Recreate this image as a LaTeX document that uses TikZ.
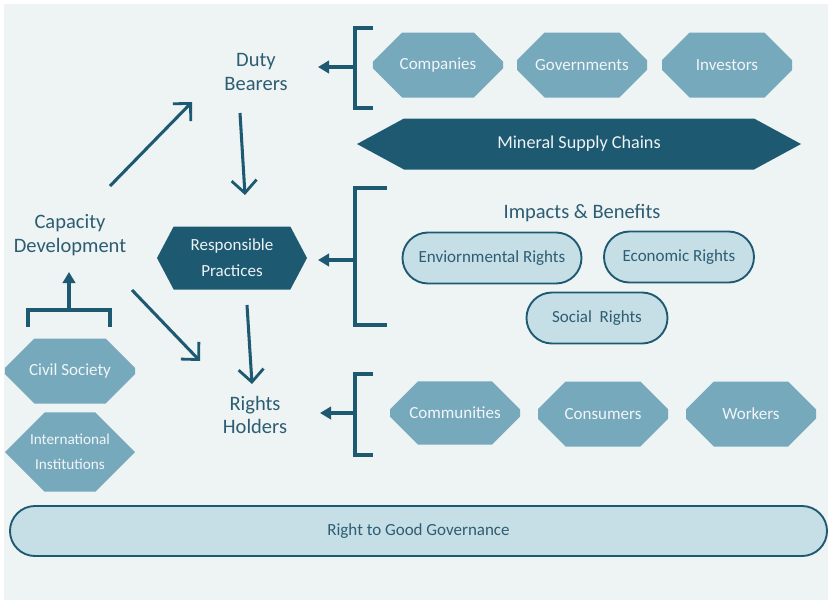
\documentclass[tikz,border=0pt]{standalone}
\usepackage{fontspec}
\setmainfont{Carlito}
\usetikzlibrary{shapes.misc,arrows.meta}
\definecolor{bgcol}{HTML}{EEF3F4}
\definecolor{darkteal}{HTML}{1D5A72}
\definecolor{midteal}{HTML}{76A9BB}
\definecolor{lightteal}{HTML}{C6DEE6}
\definecolor{labeltext}{HTML}{2D5D72}
\tikzset{
    octa-box/.style = {chamfered rectangle, chamfered rectangle xsep=0.6cm, chamfered rectangle ysep=0.66cm, fill=midteal, text=white!90!midteal, minimum width=3.9cm, minimum height=1.95cm, inner sep=0pt, font=\fontsize{14.5}{17}\selectfont, align=center},
    hexa-box/.style = {rectangle, inner sep=0pt, text=white!92!darkteal, align=center,
        path picture={\fill[darkteal] (path picture bounding box.west)
            -- ([xshift=#1]path picture bounding box.north west) -- ([xshift=-#1]path picture bounding box.north east)
            -- (path picture bounding box.east)
            -- ([xshift=-#1]path picture bounding box.south east) -- ([xshift=#1]path picture bounding box.south west) -- cycle;}},
    pill-box/.style = {rounded rectangle, draw=darkteal, line width=1.6pt, fill=lightteal, text=labeltext, minimum height=1.53cm, inner sep=0pt, font=\fontsize{14.5}{17}\selectfont},
    big-label/.style = {text=labeltext, align=center, font=\fontsize{17.5}{20}\selectfont},
    bracket/.style = {draw=darkteal, line width=2.6pt},
    short-arrow/.style = {draw=darkteal, line width=2.6pt, -{Triangle[length=0.33cm,width=0.37cm]}},
    long-arrow/.style = {draw=darkteal, line width=2.6pt, -{Straight Barb[length=0.38cm,width=0.75cm,line width=2.4pt]}},
}
\begin{document}
\begin{tikzpicture}[x=0.03cm, y=-0.03cm]
\useasboundingbox (0,0) rectangle (828,603);
\fill[white] (0,0) rectangle (828,603);
\fill[bgcol] (4,4) rectangle (828,600);

% labels
\node[big-label] (duty) at (256,72) {Duty\\Bearers};
\node[big-label] (cap) at (70,235) {Capacity\\Development};
\node[big-label] (holders) at (255,415) {Rights\\Holders};
\node[big-label] (impacts) at (582,213) {Impacts \& Benefits};

% duty bearers
\node[octa-box] (companies) at (438,65) {Companies};
\node[octa-box] (govts) at (582,65) {Governments};
\node[octa-box] (investors) at (727,65) {Investors};
\node[hexa-box=1.41cm, minimum width=13.32cm, minimum height=1.53cm, font=\fontsize{15.5}{18}\selectfont] (mineral) at (579,144) {Mineral Supply Chains};

% responsible practices
\node[hexa-box=0.5cm, minimum width=4.5cm, minimum height=1.89cm, font=\fontsize{14.5}{22}\selectfont] (resp) at (232,258) {Responsible\\Practices};
\node[pill-box, minimum width=5.37cm] (env) at (492,258) {Enviornmental Rights};
\node[pill-box, minimum width=4.5cm] (econ) at (679,257) {Economic Rights};
\node[pill-box, minimum width=4.23cm] (social) at (597,318) {Social\ \ Rights};

% rights holders
\node[octa-box, minimum height=1.9cm] (communities) at (455,413) {Communities};
\node[octa-box] (consumers) at (603,414) {Consumers};
\node[octa-box] (workers) at (751,414) {Workers};

% capacity development
\node[octa-box] (civil) at (70,371) {Civil Society};
\node[octa-box, minimum height=2.25cm, font=\fontsize{13}{21}\selectfont] (intl) at (70,452) {International\\Institutions};

\node[pill-box, minimum width=24.51cm, minimum height=1.5cm] (governance) at (418.5,531) {Right to Good Governance};

% brackets
\draw[bracket] (373,28) -| (355,108) -- (373,108);
\draw[bracket] (387,188) -| (355,325) -- (387,325);
\draw[bracket] (373,374) -| (355,455) -- (373,455);
\draw[bracket] (28,327) |- (110,310) -- (110,327);

\coordinate (duty-br) at (355,67);
\coordinate (resp-br) at (355,260);
\coordinate (holders-br) at (355,413);
\coordinate (cap-br) at (69,310);
\coordinate (duty-tip) at (318,67);
\coordinate (resp-tip) at (318,260);
\coordinate (holders-tip) at (320,413);
\coordinate (cap-tip) at (69,272);

\draw[short-arrow] (duty-br) -- (duty-tip);
\draw[short-arrow] (resp-br) -- (resp-tip);
\draw[short-arrow] (holders-br) -- (holders-tip);
\draw[short-arrow] (cap-br) -- (cap-tip);

% flow arrows
\coordinate (cap-out1) at (110,186);
\coordinate (duty-in) at (192,102);
\coordinate (duty-out) at (240,113);
\coordinate (resp-in) at (245,195);
\coordinate (resp-out) at (247,305);
\coordinate (holders-in) at (252,384);
\coordinate (cap-out2) at (132,290);
\coordinate (holders-in2) at (200,361);

\draw[long-arrow] (cap-out1) -- (duty-in);
\draw[long-arrow] (duty-out) -- (resp-in);
\draw[long-arrow] (resp-out) -- (holders-in);
\draw[long-arrow] (cap-out2) -- (holders-in2);
\end{tikzpicture}
\end{document}
